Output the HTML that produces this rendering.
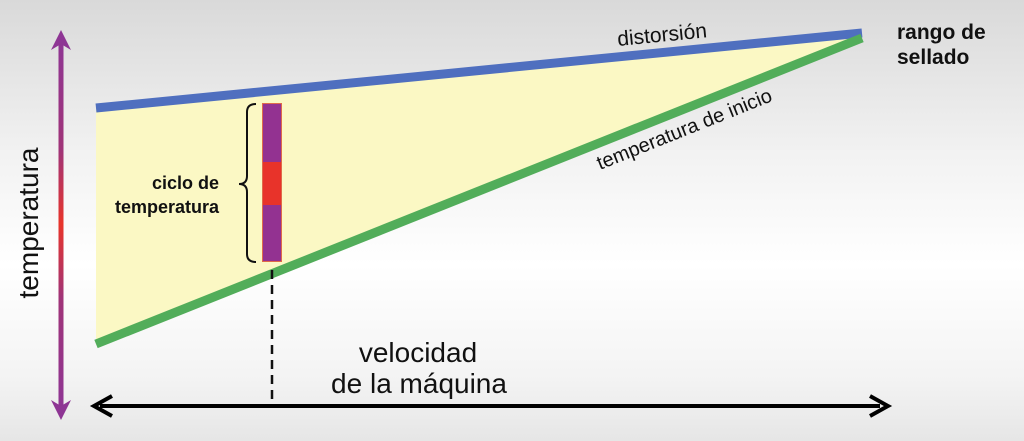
<!DOCTYPE html>
<html><head><meta charset="utf-8"><style>
html,body{margin:0;padding:0;width:1024px;height:441px;overflow:hidden;}
body{background:linear-gradient(to bottom,#d9d9d9 0%,#f2f2f2 35%,#ffffff 60%,#f4f4f4 85%,#e6e6e6 100%);}
svg{display:block;font-family:"Liberation Sans",sans-serif;}
</style></head><body>
<svg width="1024" height="441" viewBox="0 0 1024 441">
<defs>
<linearGradient id="tg" gradientUnits="userSpaceOnUse" x1="0" y1="40" x2="0" y2="408">
<stop offset="0" stop-color="#8e3594"/><stop offset="0.3" stop-color="#a03478"/><stop offset="0.5" stop-color="#e8342a"/><stop offset="0.7" stop-color="#a03478"/><stop offset="1" stop-color="#8e3594"/>
</linearGradient>
</defs>
<polygon points="96,108 862,33 862,38 96,344" fill="#fbf8c4"/>
<line x1="96" y1="108" x2="862" y2="33" stroke="#4f6fbf" stroke-width="9"/>
<line x1="96" y1="344" x2="862" y2="38" stroke="#52ad5a" stroke-width="9"/>
<!-- temperature arrow -->
<rect x="58.5" y="40" width="5" height="368" fill="url(#tg)"/>
<polygon points="61,30 51,50 61,44 71,50" fill="#8e3594"/>
<polygon points="61,420 51,400 61,406 71,400" fill="#8e3594"/>
<text transform="translate(38,223) rotate(-90)" text-anchor="middle" font-size="28" fill="#111">temperatura</text>
<!-- bar -->
<rect x="262" y="103" width="20" height="59" fill="#933291"/>
<rect x="262" y="162" width="20" height="43" fill="#e8332a"/>
<rect x="262" y="205" width="20" height="57" fill="#933291"/>
<rect x="262.5" y="103.5" width="19" height="158" fill="none" stroke="#e06a4a" stroke-width="1"/>
<path d="M256,104 Q247,104 247,112 L247,176 Q247,184 239,184 Q247,184 247,192 L247,254 Q247,262 256,262" fill="none" stroke="#111" stroke-width="2"/>
<text x="219" y="189" text-anchor="end" font-size="18" font-weight="bold" fill="#111">ciclo de</text>
<text x="219" y="213" text-anchor="end" font-size="18" font-weight="bold" fill="#111">temperatura</text>
<!-- dashed -->
<line x1="272" y1="270" x2="272" y2="406" stroke="#111" stroke-width="2.5" stroke-dasharray="9,6"/>
<!-- horizontal arrow -->
<line x1="100" y1="406" x2="880" y2="406" stroke="#000" stroke-width="4"/>
<path d="M112,396 L94,406 L112,416" fill="none" stroke="#000" stroke-width="4"/>
<path d="M870,396 L888,406 L870,416" fill="none" stroke="#000" stroke-width="4"/>
<text x="418" y="362" text-anchor="middle" font-size="28" fill="#111">velocidad</text>
<text x="419" y="393" text-anchor="middle" font-size="28" fill="#111">de la máquina</text>
<text transform="translate(618,46) rotate(-5.6)" font-size="21" fill="#111">distorsión</text>
<text transform="translate(600,170) rotate(-21.8)" font-size="20" fill="#111">temperatura de inicio</text>
<text x="897" y="39" font-size="21" font-weight="bold" fill="#111">rango de</text>
<text x="897" y="64" font-size="21" font-weight="bold" fill="#111">sellado</text>
</svg>
</body></html>
